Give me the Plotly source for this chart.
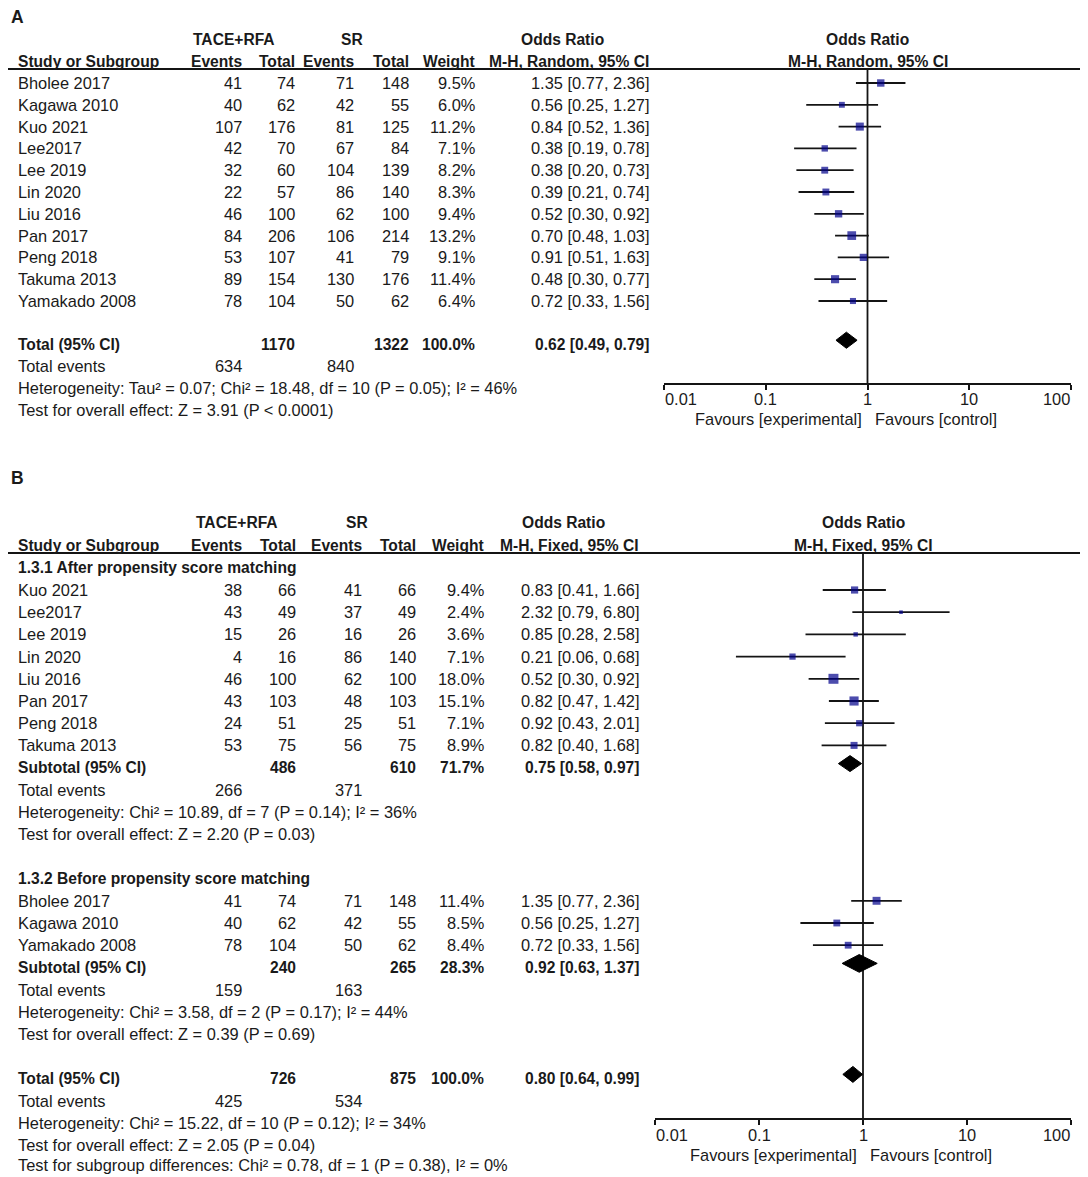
import math
import plotly.graph_objects as go

# ---------------- Panel A data ----------------
a_study = ["Bholee 2017", "Kagawa 2010", "Kuo 2021", "Lee2017", "Lee 2019", "Lin 2020",
           "Liu 2016", "Pan 2017", "Peng 2018", "Takuma 2013", "Yamakado 2008"]
a_ev1 = [41, 40, 107, 42, 32, 22, 46, 84, 53, 89, 78]
a_tot1 = [74, 62, 176, 70, 60, 57, 100, 206, 107, 154, 104]
a_ev2 = [71, 42, 81, 67, 104, 86, 62, 106, 41, 130, 50]
a_tot2 = [148, 55, 125, 84, 139, 140, 100, 214, 79, 176, 62]
a_wt = [9.5, 6.0, 11.2, 7.1, 8.2, 8.3, 9.4, 13.2, 9.1, 11.4, 6.4]
a_or = [1.35, 0.56, 0.84, 0.38, 0.38, 0.39, 0.52, 0.70, 0.91, 0.48, 0.72]
a_lo = [0.77, 0.25, 0.52, 0.19, 0.20, 0.21, 0.30, 0.48, 0.51, 0.30, 0.33]
a_hi = [2.36, 1.27, 1.36, 0.78, 0.73, 0.74, 0.92, 1.03, 1.63, 0.77, 1.56]
a_total_n = [1170, 1322]
a_total_wt = 100.0
a_total_or = [0.62, 0.49, 0.79]
a_total_events = [634, 840]
a_het = "Heterogeneity: Tau² = 0.07; Chi² = 18.48, df = 10 (P = 0.05); I² = 46%"
a_test = "Test for overall effect: Z = 3.91 (P < 0.0001)"

# ---------------- Panel B data ----------------
b1_title = "1.3.1 After propensity score matching"
b1_study = ["Kuo 2021", "Lee2017", "Lee 2019", "Lin 2020", "Liu 2016", "Pan 2017", "Peng 2018", "Takuma 2013"]
b1_ev1 = [38, 43, 15, 4, 46, 43, 24, 53]
b1_tot1 = [66, 49, 26, 16, 100, 103, 51, 75]
b1_ev2 = [41, 37, 16, 86, 62, 48, 25, 56]
b1_tot2 = [66, 49, 26, 140, 100, 103, 51, 75]
b1_wt = [9.4, 2.4, 3.6, 7.1, 18.0, 15.1, 7.1, 8.9]
b1_or = [0.83, 2.32, 0.85, 0.21, 0.52, 0.82, 0.92, 0.82]
b1_lo = [0.41, 0.79, 0.28, 0.06, 0.30, 0.47, 0.43, 0.40]
b1_hi = [1.66, 6.80, 2.58, 0.68, 0.92, 1.42, 2.01, 1.68]
b1_sub_n = [486, 610]
b1_sub_wt = 71.7
b1_sub_or = [0.75, 0.58, 0.97]
b1_sub_events = [266, 371]
b1_het = "Heterogeneity: Chi² = 10.89, df = 7 (P = 0.14); I² = 36%"
b1_test = "Test for overall effect: Z = 2.20 (P = 0.03)"

b2_title = "1.3.2 Before propensity score matching"
b2_study = ["Bholee 2017", "Kagawa 2010", "Yamakado 2008"]
b2_ev1 = [41, 40, 78]
b2_tot1 = [74, 62, 104]
b2_ev2 = [71, 42, 50]
b2_tot2 = [148, 55, 62]
b2_wt = [11.4, 8.5, 8.4]
b2_or = [1.35, 0.56, 0.72]
b2_lo = [0.77, 0.25, 0.33]
b2_hi = [2.36, 1.27, 1.56]
b2_sub_n = [240, 265]
b2_sub_wt = 28.3
b2_sub_or = [0.92, 0.63, 1.37]
b2_sub_events = [159, 163]
b2_het = "Heterogeneity: Chi² = 3.58, df = 2 (P = 0.17); I² = 44%"
b2_test = "Test for overall effect: Z = 0.39 (P = 0.69)"

b_total_n = [726, 875]
b_total_wt = 100.0
b_total_or = [0.80, 0.64, 0.99]
b_total_events = [425, 534]
b_het = "Heterogeneity: Chi² = 15.22, df = 10 (P = 0.12); I² = 34%"
b_test = "Test for overall effect: Z = 2.05 (P = 0.04)"
b_test_sub = "Test for subgroup differences: Chi² = 0.78, df = 1 (P = 0.38), I² = 0%"

ticks = [0.01, 0.1, 1, 10, 100]
tick_text = ["0.01", "0.1", "1", "10", "100"]
fav_left = "Favours [experimental]"
fav_right = "Favours [control]"

# ---------------- styling / layout ----------------
# The page body has an 8px margin, so the figure is placed at (8, 8) in the window.
OFF = 8
W, H = 1088 - OFF, 1177 - OFF
FONT = "Arial, Liberation Sans, sans-serif"
FS = 16.4       # regular text
FSB = 15.6      # bold text
TXT = "#1a1a1a"
SQ = "#00008a"
LINE = "#141414"


def px(x):  # window pixel x -> paper
    return (x - OFF) / W


def py(y):  # window pixel y -> paper
    return 1 - (y - OFF) / H


# row -> window pixel mapping for each panel
A_Y0, A_DY = 83, 21.8
B_Y0, B_DY = 590, 22.2


def yA(r):
    return A_Y0 + A_DY * r


def yB(r):
    return B_Y0 + B_DY * r


A_top, A_bot = 69, 383
B_top, B_bot = 553, 1118
a_yrange = [(A_bot - A_Y0) / A_DY, (A_top - A_Y0) / A_DY]
b_yrange = [(B_bot - B_Y0) / B_DY, (B_top - B_Y0) / B_DY]

A_cols = [244, 297, 356, 411, 477, 651]
B_cols = [244, 298, 364, 418, 486, 641]
LEFT = 16

fig = go.Figure()
ann = []


def txt(text, xpx, ypx, anchor="right", bold=False, size=None):
    fs = size if size else (FSB if bold else FS)
    ann.append(dict(text=f"<b>{text}</b>" if bold else text, x=px(xpx), xref="paper",
                    y=py(ypx), yref="paper", xanchor=anchor, yanchor="middle", showarrow=False,
                    font=dict(family=FONT, size=fs, color=TXT)))


def fmt_or(o, l, h):
    return f"{o:.2f} [{l:.2f}, {h:.2f}]"


def study_rows(rows, ymap, names, e1, t1, e2, t2, wt, o, lo, hi, cols):
    for i, r in enumerate(rows):
        y = ymap(r)
        txt(names[i], LEFT, y, anchor="left")
        vals = [str(e1[i]), str(t1[i]), str(e2[i]), str(t2[i]), f"{wt[i]:.1f}%", fmt_or(o[i], lo[i], hi[i])]
        for c, v in zip(cols, vals):
            txt(v, c, y)


def ci_traces(rows, o, lo, hi, wt, xa, ya, k):
    xs, ys = [], []
    for i, r in enumerate(rows):
        xs += [lo[i], hi[i], None]
        ys += [r, r, None]
    fig.add_trace(go.Scatter(x=xs, y=ys, mode="lines", line=dict(color=LINE, width=1.8),
                             xaxis=xa, yaxis=ya, hoverinfo="skip", showlegend=False))
    fig.add_trace(go.Scatter(x=o, y=rows, mode="markers",
                             marker=dict(symbol="square", color=SQ,
                                         size=[k * math.sqrt(w) for w in wt],
                                         line=dict(color=SQ, width=0)),
                             xaxis=xa, yaxis=ya, hoverinfo="skip", showlegend=False))


def diamond(orv, r, half, xa, ya):
    o, l, h = orv
    fig.add_trace(go.Scatter(x=[l, o, h, o, l], y=[r, r - half, r, r + half, r], mode="lines",
                             fill="toself", fillcolor="black", line=dict(color="black", width=1),
                             xaxis=xa, yaxis=ya, hoverinfo="skip", showlegend=False))


def summary_row(y, label, n, wt, orv, cols):
    txt(label, LEFT, y, anchor="left", bold=True)
    txt(str(n[0]), cols[1], y, bold=True)
    txt(str(n[1]), cols[3], y, bold=True)
    txt(f"{wt:.1f}%", cols[4], y, bold=True)
    txt(fmt_or(*orv), cols[5], y, bold=True)


def events_row(y, ev, cols):
    txt("Total events", LEFT, y, anchor="left")
    txt(str(ev[0]), cols[0], y)
    txt(str(ev[1]), cols[2], y)


def header(y1, y2, cols, centers, method, fcenter):
    txt("TACE+RFA", centers[0], y1, anchor="center", bold=True)
    txt("SR", centers[1], y1, anchor="center", bold=True)
    txt("Odds Ratio", centers[2], y1, anchor="center", bold=True)
    txt("Study or Subgroup", LEFT, y2, anchor="left", bold=True)
    for c, v in zip(cols, ["Events", "Total", "Events", "Total", "Weight", method]):
        txt(v, c, y2, bold=True)
    txt("Odds Ratio", fcenter, y1, anchor="center", bold=True)
    txt(method, fcenter, y2, anchor="center", bold=True)


def axis_labels(xref, yref_dom, tick_shift, fav_shift):
    for i, (tv, tt) in enumerate(zip(ticks, tick_text)):
        anc = "left" if i == 0 else ("right" if i == len(ticks) - 1 else "center")
        ann.append(dict(text=tt, x=math.log10(tv), xref=xref, y=0, yref=yref_dom,
                        xanchor=anc, yanchor="top", yshift=tick_shift, showarrow=False,
                        xshift=-1 if anc == "left" else (1 if anc == "right" else 0),
                        font=dict(family=FONT, size=FS, color=TXT)))
    ann.append(dict(text=fav_left, x=0, xref=xref, y=0, yref=yref_dom, xanchor="right",
                    yanchor="top", yshift=fav_shift, xshift=-4, showarrow=False,
                    font=dict(family=FONT, size=FS, color=TXT)))
    ann.append(dict(text=fav_right, x=0, xref=xref, y=0, yref=yref_dom, xanchor="left",
                    yanchor="top", yshift=fav_shift, xshift=5, showarrow=False,
                    font=dict(family=FONT, size=FS, color=TXT)))


# ---------------- Panel A ----------------
a_rows = list(range(len(a_study)))
r_tot = len(a_study) + 1
header(40, 61, A_cols, [234, 352, 562], "M-H, Random, 95% CI", (664 + 1071) / 2)
study_rows(a_rows, yA, a_study, a_ev1, a_tot1, a_ev2, a_tot2, a_wt, a_or, a_lo, a_hi, A_cols)
summary_row(yA(r_tot), "Total (95% CI)", a_total_n, a_total_wt, a_total_or, A_cols)
events_row(yA(r_tot + 1), a_total_events, A_cols)
txt(a_het, LEFT, yA(r_tot + 2), anchor="left")
txt(a_test, LEFT, yA(r_tot + 3), anchor="left")

fig.add_trace(go.Scatter(x=[1, 1], y=[a_yrange[1], a_yrange[0]], mode="lines",
                         line=dict(color=LINE, width=1.8), xaxis="x", yaxis="y",
                         hoverinfo="skip", showlegend=False))
ci_traces(a_rows, a_or, a_lo, a_hi, a_wt, "x", "y", 2.4)
diamond(a_total_or, r_tot - 0.2, 0.37, "x", "y")
axis_labels("x", "y domain", -5, -25)

# ---------------- Panel B ----------------
b1_rows = list(range(len(b1_study)))
r_s1 = len(b1_study)
g2_head = r_s1 + 5
b2_rows = [g2_head + 1 + i for i in range(len(b2_study))]
r_s2 = b2_rows[-1] + 1
r_bt = r_s2 + 5

header(522, 545, B_cols, [237, 357, 563], "M-H, Fixed, 95% CI", (655 + 1071) / 2)
txt(b1_title, LEFT, yB(-1), anchor="left", bold=True)
study_rows(b1_rows, yB, b1_study, b1_ev1, b1_tot1, b1_ev2, b1_tot2, b1_wt, b1_or, b1_lo, b1_hi, B_cols)
summary_row(yB(r_s1), "Subtotal (95% CI)", b1_sub_n, b1_sub_wt, b1_sub_or, B_cols)
events_row(yB(r_s1 + 1), b1_sub_events, B_cols)
txt(b1_het, LEFT, yB(r_s1 + 2), anchor="left")
txt(b1_test, LEFT, yB(r_s1 + 3), anchor="left")

txt(b2_title, LEFT, yB(g2_head), anchor="left", bold=True)
study_rows(b2_rows, yB, b2_study, b2_ev1, b2_tot1, b2_ev2, b2_tot2, b2_wt, b2_or, b2_lo, b2_hi, B_cols)
summary_row(yB(r_s2), "Subtotal (95% CI)", b2_sub_n, b2_sub_wt, b2_sub_or, B_cols)
events_row(yB(r_s2 + 1), b2_sub_events, B_cols)
txt(b2_het, LEFT, yB(r_s2 + 2), anchor="left")
txt(b2_test, LEFT, yB(r_s2 + 3), anchor="left")

summary_row(yB(r_bt), "Total (95% CI)", b_total_n, b_total_wt, b_total_or, B_cols)
events_row(yB(r_bt + 1), b_total_events, B_cols)
txt(b_het, LEFT, yB(r_bt + 2), anchor="left")
txt(b_test, LEFT, yB(r_bt + 3), anchor="left")
txt(b_test_sub, LEFT, yB(r_bt + 4) - 2, anchor="left")

fig.add_trace(go.Scatter(x=[1, 1], y=[b_yrange[1], b_yrange[0]], mode="lines",
                         line=dict(color=LINE, width=1.8), xaxis="x2", yaxis="y2",
                         hoverinfo="skip", showlegend=False))
ci_traces(b1_rows, b1_or, b1_lo, b1_hi, b1_wt, "x2", "y2", 2.35)
ci_traces(b2_rows, b2_or, b2_lo, b2_hi, b2_wt, "x2", "y2", 2.35)
diamond(b1_sub_or, r_s1 - 0.18, 0.36, "x2", "y2")
diamond(b2_sub_or, r_s2 - 0.18, 0.40, "x2", "y2")
diamond(b_total_or, r_bt - 0.18, 0.36, "x2", "y2")
axis_labels("x2", "y2 domain", -6, -26)

# panel letters
for lab, ypx in [("A", 17), ("B", 478)]:
    txt(lab, 9, ypx, anchor="left", bold=True, size=17.5)

# header rules
shapes = []
for ypx in [A_top, B_top]:
    shapes.append(dict(type="line", xref="paper", yref="paper", x0=0, x1=px(1086),
                       y0=py(ypx), y1=py(ypx), line=dict(color=LINE, width=1.8)))

base_x = dict(type="log", range=[-2, 2], tickvals=ticks, showticklabels=False, showgrid=False,
              zeroline=False, fixedrange=True, ticklen=5, tickwidth=1.6, tickcolor=LINE)
yax = dict(showgrid=False, zeroline=False, showticklabels=False, showline=False, ticks="",
           fixedrange=True)

fig.update_layout(
    width=W, height=H, autosize=False,
    margin=dict(l=0, r=0, t=0, b=0),
    paper_bgcolor="white", plot_bgcolor="white",
    showlegend=False,
    xaxis=dict(base_x, domain=[px(664), px(1071)], anchor="y", showline=True, linecolor=LINE,
               linewidth=1.8, ticks="outside"),
    xaxis3=dict(base_x, overlaying="x", anchor="y", showline=False, ticks="inside"),
    xaxis2=dict(base_x, domain=[px(655), px(1071)], anchor="y2", showline=True, linecolor=LINE,
                linewidth=1.8, ticks="outside"),
    xaxis4=dict(base_x, overlaying="x2", anchor="y2", showline=False, ticks="inside"),
    yaxis=dict(yax, domain=[py(A_bot), py(A_top)], range=a_yrange, anchor="x"),
    yaxis2=dict(yax, domain=[py(B_bot), py(B_top)], range=b_yrange, anchor="x2"),
    annotations=ann,
    shapes=shapes,
)

fig.write_html("out.html")
